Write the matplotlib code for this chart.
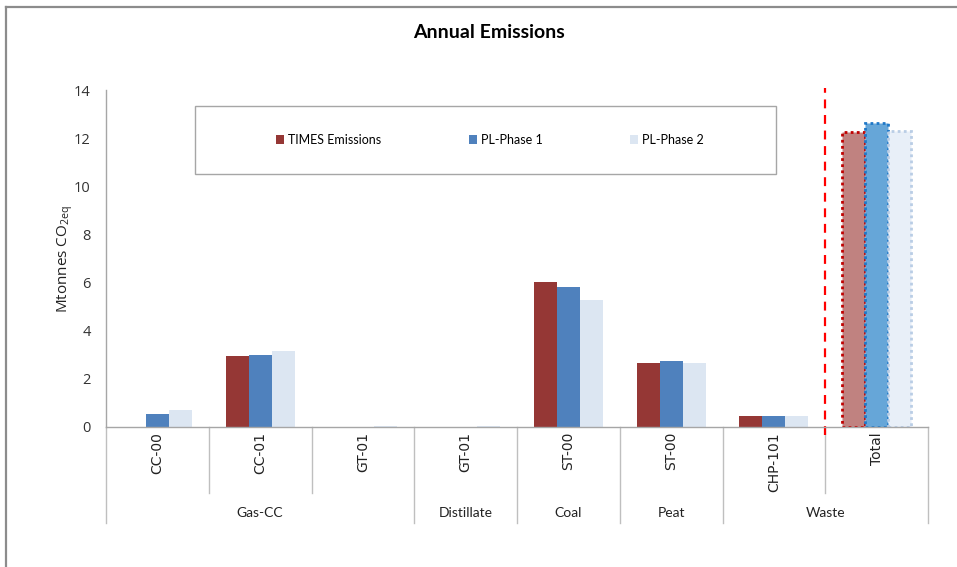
# Annual emissions by plant type, with the total on the right
import matplotlib.pyplot as plt
import matplotlib.patches as mpatches
from matplotlib.lines import Line2D
import numpy as np

# data
categories = ['CC-00', 'CC-01', 'GT-01', 'GT-01', 'ST-00', 'ST-00', 'CHP-101', 'Total']
times_emissions = [0.0, 2.96, 0.0, 0.0, 6.02, 2.67, 0.47, 12.25]
pl_phase1 = [0.53, 2.99, 0.0, 0.0, 5.80, 2.75, 0.47, 12.63]
pl_phase2 = [0.72, 3.15, 0.03, 0.03, 5.26, 2.64, 0.47, 12.28]
groups = ['Gas-CC', 'Distillate', 'Coal', 'Peat', 'Waste']
group_sizes = [3, 1, 1, 1, 2]
series_names = ['TIMES Emissions', 'PL-Phase 1', 'PL-Phase 2']

colors_main = ['#953735', '#4F81BD', '#DCE6F2']
colors_total = ['#C08280', '#66A6D8', '#E8EFF8']
edges_total = ['#C00000', '#1F78C8', '#B9CDE5']

W, H = 957, 567
fig = plt.figure(figsize=(W / 100, H / 100), dpi=100)

def px(x, y):
    return x / W, 1 - y / H

# outer frame (top and left edges only visible)
fig.add_artist(Line2D([6 / W, 1], [1 - 7 / H] * 2, color='#8C8C8C', lw=1.6))
fig.add_artist(Line2D([6 / W] * 2, [0, 1 - 7 / H], color='#8C8C8C', lw=1.6))

ax_l, ax_r, ax_t, ax_b = 106, 928, 90, 427
ax = fig.add_axes([ax_l / W, 1 - ax_b / H, (ax_r - ax_l) / W, (ax_b - ax_t) / H])

n = len(categories)
x = np.arange(n) + 0.5
w = 0.224
series = [times_emissions, pl_phase1, pl_phase2]
handles = []
for k, vals in enumerate(series):
    vals = np.array(vals)
    b = ax.bar(x[:-1] + (k - 1) * w, vals[:-1], w, color=colors_main[k],
               edgecolor='none', label=series_names[k])
    handles.append(b)
    # total bar with dotted outline
    ax.bar(x[-1] + (k - 1) * w, vals[-1], w, color=colors_total[k],
           edgecolor=edges_total[k], linestyle=(0, (1, 1.2)), linewidth=2)

ax.set_xlim(0, n)
ax.set_ylim(0, 14)
ax.set_yticks(range(0, 15, 2))
ax.set_xticks([])
for s in ['top', 'right']:
    ax.spines[s].set_visible(False)
for s in ['left', 'bottom']:
    ax.spines[s].set_color('#A6A6A6')
    ax.spines[s].set_linewidth(1)
ax.tick_params(axis='y', length=0, pad=11, labelsize=10.5, labelcolor='#333333')
for t in ax.get_yticklabels():
    t.set_fontfamily('Open Sans')

ax.set_ylabel(r'Mtonnes CO$_{\mathregular{2eq}}$', fontsize=11, family='Open Sans',
              color='#222222')
ax.yaxis.set_label_coords(-0.038, 0.5)

# category labels and separators
trans = ax.get_xaxis_transform()
for i, lab in enumerate(categories):
    ax.text(x[i], -0.015, lab, rotation=90, ha='center', va='top', fontsize=10,
            family='DejaVu Sans', color='#222222', transform=trans)

bounds = np.cumsum([0] + group_sizes)
for b in range(n + 1):
    y_end = -0.285 if b in bounds else -0.196
    ax.plot([b, b], [0, y_end], color='#BFBFBF', lw=1, transform=trans, clip_on=False)

for g, lab in enumerate(groups):
    cx = (bounds[g] + bounds[g + 1]) / 2
    ax.text(cx, -0.255, lab, ha='center', va='center', fontsize=10,
            family='Lato', color='#222222', transform=trans)

# red dashed separator before the total
ax.plot([n - 1, n - 1], [-0.024, 1.006], color='#FF0000', lw=1.6,
        linestyle=(0, (4, 3)), transform=trans, clip_on=False)

# legend with its own box
lx0, ly0, lx1, ly1 = 195, 106, 776, 174
fig.add_artist(mpatches.Rectangle(px(lx0, ly1), (lx1 - lx0) / W, (ly1 - ly0) / H,
                                  transform=fig.transFigure, fill=False,
                                  edgecolor='#A6A6A6', lw=1))
leg = ax.legend(handles=handles, ncol=3, loc='center',
                bbox_to_anchor=px(490, (ly0 + ly1) / 2),
                bbox_transform=fig.transFigure, frameon=False,
                handlelength=0.65, handleheight=0.65, handletextpad=0.3,
                columnspacing=7.0, prop={'family': 'Lato', 'size': 9})

fig.text(*px(489, 33), 'Annual Emissions', ha='center', va='center',
         fontsize=14, fontweight='bold', family='Lato')

fig.savefig('out.png', dpi=100)
